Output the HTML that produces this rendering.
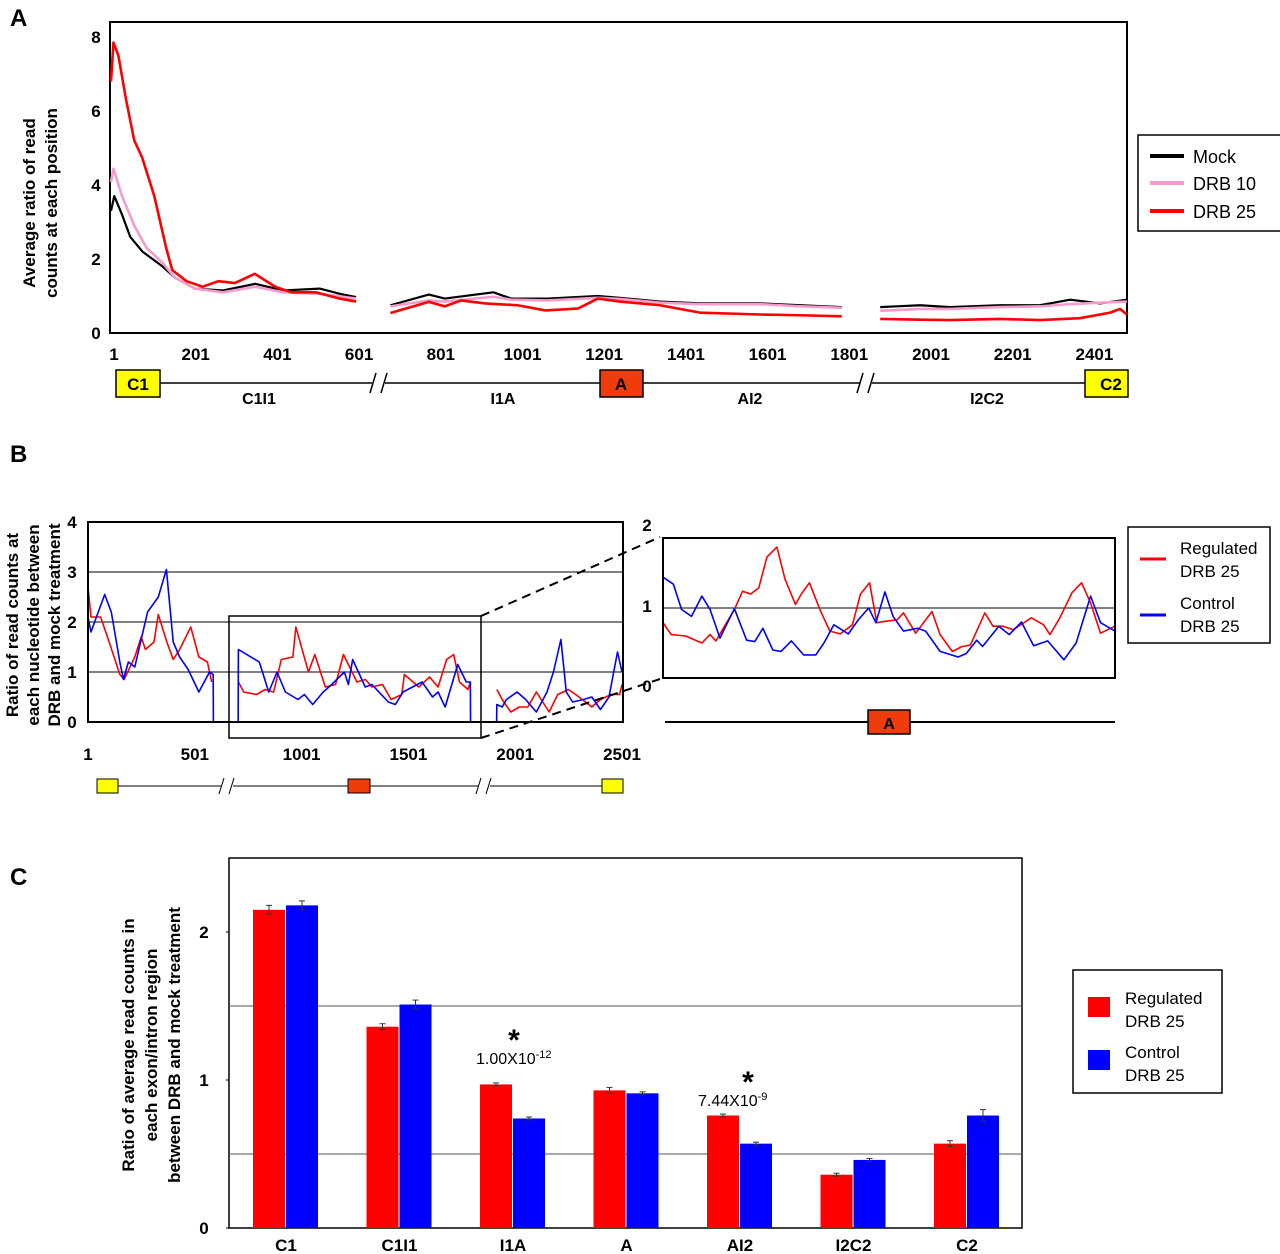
<!DOCTYPE html>
<html><head><meta charset="utf-8"><style>
html,body{margin:0;padding:0;background:#fff}
svg{display:block;font-family:"Liberation Sans",Arial,sans-serif}
.b{font-weight:bold}
</style></head><body>
<svg id="fig" width="1280" height="1254" viewBox="0 0 1280 1254" xmlns="http://www.w3.org/2000/svg">
<text x="10" y="26" class="b" font-size="24">A</text>
<text x="10" y="462" class="b" font-size="24">B</text>
<text x="10" y="885" class="b" font-size="24">C</text>

<g id="pa">
<rect x="110" y="22" width="1017" height="311" fill="none" stroke="#000" stroke-width="2"/>
<text transform="translate(35,203) rotate(-90)" text-anchor="middle" class="b" font-size="17"><tspan x="0" y="0">Average ratio of read</tspan><tspan x="0" y="22">counts at each position</tspan></text>
<g id="paTicks"></g><g id="paLines"></g>
<g>
<rect x="1138" y="135" width="166" height="96" fill="#fff" stroke="#000" stroke-width="1.5"/>
<line x1="1150" y1="156" x2="1184" y2="156" stroke="#000" stroke-width="4"/><text x="1193" y="163" font-size="18">Mock</text>
<line x1="1150" y1="183" x2="1184" y2="183" stroke="#f59ccc" stroke-width="4"/><text x="1193" y="190" font-size="18">DRB 10</text>
<line x1="1150" y1="211" x2="1184" y2="211" stroke="#f00" stroke-width="4"/><text x="1193" y="218" font-size="18">DRB 25</text>
</g>
<g>
<line x1="160" y1="383" x2="372" y2="383" stroke="#000" stroke-width="1.5"/>
<line x1="385" y1="383" x2="860" y2="383" stroke="#000" stroke-width="1.5"/>
<line x1="872" y1="383" x2="1085" y2="383" stroke="#000" stroke-width="1.5"/>
<line x1="370" y1="393" x2="376" y2="373" stroke="#000" stroke-width="1.5"/><line x1="381" y1="393" x2="387" y2="373" stroke="#000" stroke-width="1.5"/>
<line x1="857" y1="393" x2="863" y2="373" stroke="#000" stroke-width="1.5"/><line x1="868" y1="393" x2="874" y2="373" stroke="#000" stroke-width="1.5"/>
<rect x="116" y="370" width="44" height="27" fill="#ff0" stroke="#000" stroke-width="1.5"/><text x="138" y="390" text-anchor="middle" class="b" font-size="17">C1</text>
<rect x="600" y="370" width="43" height="27" fill="#f03c0a" stroke="#000" stroke-width="1.5"/><text x="621" y="390" text-anchor="middle" class="b" font-size="17">A</text>
<rect x="1085" y="370" width="43" height="27" fill="#ff0" stroke="#000" stroke-width="1.5"/><text x="1111" y="390" text-anchor="middle" class="b" font-size="17">C2</text>
<text x="259" y="404" text-anchor="middle" class="b" font-size="16">C1I1</text>
<text x="503" y="404" text-anchor="middle" class="b" font-size="16">I1A</text>
<text x="750" y="404" text-anchor="middle" class="b" font-size="16">AI2</text>
<text x="987" y="404" text-anchor="middle" class="b" font-size="16">I2C2</text>
</g>
</g>

<g id="pb">
<text transform="translate(18,625) rotate(-90)" text-anchor="middle" class="b" font-size="17"><tspan x="0" y="0">Ratio of read counts at</tspan><tspan x="0" y="21">each nucleotide between</tspan><tspan x="0" y="42">DRB and mock treatment</tspan></text>
<g id="pbGrid"></g><g id="pbLines"></g>
<rect x="88" y="522" width="535" height="200" fill="none" stroke="#000" stroke-width="2"/>
<rect x="229" y="616" width="252" height="122" fill="none" stroke="#000" stroke-width="1.5"/>
<line x1="481" y1="616" x2="660" y2="537" stroke="#000" stroke-width="2" stroke-dasharray="9,6"/>
<line x1="481" y1="738" x2="660" y2="679" stroke="#000" stroke-width="2" stroke-dasharray="9,6"/>
<text x="647" y="531" text-anchor="middle" class="b" font-size="17">2</text>
<text x="647" y="612" text-anchor="middle" class="b" font-size="17">1</text>
<text x="647" y="692" text-anchor="middle" class="b" font-size="17">0</text>
<g id="pbrLines"></g>
<rect x="663" y="538" width="452" height="140" fill="none" stroke="#000" stroke-width="2"/>
<g>
<line x1="118" y1="786" x2="221" y2="786" stroke="#000"/><line x1="233" y1="786" x2="348" y2="786" stroke="#000"/>
<line x1="370" y1="786" x2="478" y2="786" stroke="#000"/><line x1="490" y1="786" x2="602" y2="786" stroke="#000"/>
<line x1="219" y1="794" x2="224" y2="778" stroke="#000"/><line x1="229" y1="794" x2="234" y2="778" stroke="#000"/>
<line x1="476" y1="794" x2="481" y2="778" stroke="#000"/><line x1="486" y1="794" x2="491" y2="778" stroke="#000"/>
<rect x="97" y="779" width="21" height="14" fill="#ff0" stroke="#000"/>
<rect x="348" y="779" width="22" height="14" fill="#f03c0a" stroke="#000"/>
<rect x="602" y="779" width="21" height="14" fill="#ff0" stroke="#000"/>
<line x1="665" y1="722" x2="1115" y2="722" stroke="#000" stroke-width="2"/>
<rect x="868" y="710" width="42" height="24" fill="#f03c0a" stroke="#000" stroke-width="1.5"/><text x="889" y="729" text-anchor="middle" class="b" font-size="16">A</text>
</g>
<g>
<rect x="1128" y="527" width="142" height="116" fill="#fff" stroke="#000" stroke-width="1.5"/>
<line x1="1140" y1="559" x2="1166" y2="559" stroke="#f00" stroke-width="3"/>
<text x="1180" y="554" font-size="17">Regulated</text><text x="1180" y="577" font-size="17">DRB 25</text>
<line x1="1140" y1="615" x2="1166" y2="615" stroke="#00f" stroke-width="3"/>
<text x="1180" y="609" font-size="17">Control</text><text x="1180" y="632" font-size="17">DRB 25</text>
</g>
</g>

<g id="pc">
<rect x="229" y="858" width="793" height="370" fill="none" stroke="#000" stroke-width="1.5"/>
<text transform="translate(134,1045) rotate(-90)" text-anchor="middle" class="b" font-size="17"><tspan x="0" y="0">Ratio of average read counts in</tspan><tspan x="0" y="23">each exon/intron region</tspan><tspan x="0" y="46">between DRB and mock treatment</tspan></text>
<g id="pcGrid"></g><g id="pcBars"></g>
<text x="514" y="1050" text-anchor="middle" class="b" font-size="30">*</text>
<text x="476" y="1064" font-size="16">1.00X10<tspan dy="-6" font-size="11">-12</tspan></text>
<text x="748" y="1092" text-anchor="middle" class="b" font-size="30">*</text>
<text x="698" y="1106" font-size="16">7.44X10<tspan dy="-6" font-size="11">-9</tspan></text>
<g>
<rect x="1073" y="970" width="149" height="123" fill="#fff" stroke="#000" stroke-width="1.5"/>
<rect x="1088" y="997" width="22" height="20" fill="#f00"/>
<text x="1125" y="1004" font-size="17">Regulated</text><text x="1125" y="1027" font-size="17">DRB 25</text>
<rect x="1088" y="1050" width="22" height="20" fill="#00f"/>
<text x="1125" y="1058" font-size="17">Control</text><text x="1125" y="1081" font-size="17">DRB 25</text>
</g>
</g>
</svg>
<script>
const aTicks = [1,201,401,601,801,1001,1201,1401,1601,1801,2001,2201,2401];
const aYTicks = [0,2,4,6,8];
const mockPos1 = [1,9,28,48,78,127,157,206,275,354,423,512,561,601];
const mockVal1 = [3.3,3.7,3.2,2.6,2.2,1.8,1.5,1.2,1.15,1.33,1.15,1.2,1.06,0.97];
const mockPos2 = [685,779,818,937,981,1070,1193,1247,1345,1443,1590,1688,1790];
const mockVal2 = [0.75,1.04,0.93,1.1,0.93,0.93,1.0,0.95,0.85,0.8,0.8,0.75,0.7];
const mockPos3 = [1884,1982,2055,2177,2275,2349,2422,2488];
const mockVal3 = [0.7,0.75,0.7,0.75,0.75,0.9,0.8,0.9];
const pinkPos1 = [1,7,28,58,88,127,157,206,275,354,423,512,601];
const pinkVal1 = [4.08,4.44,3.7,2.9,2.3,1.9,1.5,1.2,1.1,1.25,1.1,1.06,0.93];
const pinkPos2 = [685,779,818,937,981,1070,1193,1247,1345,1443,1590,1688,1790];
const pinkVal2 = [0.72,0.88,0.85,0.98,0.9,0.88,0.95,0.92,0.82,0.78,0.78,0.72,0.68];
const pinkPos3 = [1884,1982,2055,2177,2275,2349,2422,2488];
const pinkVal3 = [0.6,0.65,0.65,0.7,0.72,0.78,0.82,0.85];
const redPos1 = [1,7,19,38,58,77,107,136,151,186,225,264,304,353,403,443,502,561,601];
const redVal1 = [6.8,7.85,7.5,6.3,5.2,4.75,3.7,2.3,1.7,1.4,1.25,1.4,1.35,1.6,1.25,1.1,1.1,0.93,0.85];
const redPos2 = [685,779,818,858,917,996,1065,1144,1193,1247,1345,1443,1590,1688,1790];
const redVal2 = [0.54,0.84,0.72,0.88,0.8,0.75,0.61,0.66,0.93,0.85,0.75,0.55,0.5,0.48,0.45];
const redPos3 = [1884,1982,2055,2177,2275,2373,2447,2471,2488];
const redVal3 = [0.38,0.36,0.35,0.38,0.35,0.4,0.55,0.65,0.5];

const bTicks = [1,501,1001,1501,2001,2501];
const bYTicks = [0,1,2,3,4];
const bRedPos = [1,15,60,100,150,170,220,250,270,310,330,370,400,430,482,520,560,580];
const bRedVal = [2.7,2.1,2.1,1.6,0.95,0.85,1.3,1.7,1.45,1.6,2.15,1.6,1.25,1.45,1.9,1.3,1.2,0.8];
const bRedPos2 = [705,730,790,830,870,906,960,974,1033,1063,1112,1160,1197,1260,1300,1330,1380,1420,1470,1482,1550,1600,1640,1680,1713,1740,1780,1791];
const bRedVal2 = [0.8,0.6,0.55,0.65,0.6,1.25,1.3,1.9,1.0,1.35,0.7,0.75,1.35,0.8,0.85,0.7,0.75,0.45,0.55,0.95,0.7,0.9,0.7,1.25,1.35,0.8,0.65,0.8];
const bRedPos3 = [1915,1940,1980,2020,2060,2100,2130,2160,2200,2250,2300,2360,2400,2450,2490,2501];
const bRedVal3 = [0.65,0.45,0.2,0.3,0.3,0.6,0.4,0.2,0.55,0.65,0.5,0.3,0.45,0.55,0.55,0.75];
const bBluePos = [1,15,79,110,150,167,190,220,280,330,368,400,430,470,520,570,587,588,704,705,803,847,886,925,984,1014,1053,1102,1142,1201,1220,1240,1299,1330,1407,1440,1476,1565,1614,1640,1673,1732,1772,1791,1792,1914,1915,1940,1960,2010,2050,2080,2100,2150,2180,2215,2240,2270,2320,2360,2400,2440,2480,2501];
const bBlueVal = [2.1,1.8,2.55,2.2,1.2,0.85,1.2,1.1,2.2,2.5,3.05,1.6,1.3,1.05,0.6,1.0,0.95,0,0,1.45,1.2,0.6,1.0,0.6,0.45,0.55,0.35,0.6,0.75,1.0,0.75,1.25,0.7,0.75,0.4,0.35,0.6,0.8,0.5,0.6,0.3,1.15,0.8,0.8,0,0,0.35,0.3,0.45,0.6,0.45,0.3,0.2,0.6,1.0,1.65,0.6,0.4,0.45,0.5,0.25,0.5,1.4,1.0];
const rRedX = [0,1.8,5,8.6,10.4,11.7,15.8,17.6,19.4,21.2,23,25.2,27,29.3,30.6,32.4,34.7,36.9,39.2,41.9,43.7,45.7,47.3,49.1,51.8,53.2,55.9,59.5,61.3,64,66.2,68,71.2,73,75.2,77.5,81.5,84.2,85.6,87.8,90.5,92.6,94.6,96.8,100];
const rRedVal = [0.79,0.62,0.6,0.5,0.62,0.53,0.98,1.24,1.2,1.29,1.73,1.87,1.41,1.05,1.2,1.36,0.98,0.67,0.63,0.76,1.2,1.36,0.79,0.81,0.83,0.93,0.64,0.95,0.62,0.38,0.45,0.47,0.93,0.74,0.74,0.69,0.86,0.76,0.62,0.86,1.22,1.36,1.07,0.64,0.74];
const rBlueX = [0,2.3,4.1,6.3,8.6,10.4,12.6,15.8,18.5,20.3,22.1,24.3,26.1,28.4,31.1,33.8,35.6,37.8,41,43.2,45.5,47.1,49.1,50.9,53.2,56.3,58.1,61.3,65.3,67.1,69.4,70.7,74.3,76.6,79.3,82,85.1,88.7,91.4,94.6,96.8,100];
const rBlueVal = [1.44,1.34,0.98,0.88,1.17,0.98,0.57,0.99,0.54,0.52,0.71,0.4,0.38,0.53,0.33,0.33,0.5,0.76,0.63,0.83,1.0,0.79,1.23,0.88,0.67,0.71,0.67,0.38,0.3,0.35,0.54,0.45,0.74,0.62,0.8,0.46,0.53,0.26,0.5,1.17,0.79,0.67];

const cCats = ["C1","C1I1","I1A","A","AI2","I2C2","C2"];
const cRegulated = [2.15,1.36,0.97,0.93,0.76,0.36,0.57];
const cControl = [2.18,1.51,0.74,0.91,0.57,0.46,0.76];
const cRegErr = [0.03,0.02,0.01,0.02,0.01,0.01,0.02];
const cCtlErr = [0.03,0.03,0.01,0.01,0.01,0.01,0.04];
const cYTicks = [0,1,2];
const cGrid = [0.5,1.5];

const NS="http://www.w3.org/2000/svg";
function mk(tag, attrs, parent){const e=document.createElementNS(NS,tag);for(const k in attrs)e.setAttribute(k,attrs[k]);parent.appendChild(e);return e;}

const ax = p => 111 + (p-1)*0.4085;
const ay = v => 333 - v*37;
const paT=document.getElementById('paTicks');
aTicks.forEach(t=>{const e=mk('text',{x:ax(t)+3,y:360,'text-anchor':'middle','font-size':17,'font-weight':'bold'},paT);e.textContent=t;

});
aYTicks.forEach(t=>{const e=mk('text',{x:96,y:ay(t)+6,'text-anchor':'middle','font-size':17,'font-weight':'bold'},paT);e.textContent=t;

});
const paL=document.getElementById('paLines');
function lineA(P,V,color,w,name){const pl=mk('polyline',{points:P.map((p,i)=>ax(p)+','+ay(V[i])).join(' '),fill:'none',stroke:color,'stroke-width':w,'stroke-linejoin':'round'},paL);

}
lineA(mockPos1,mockVal1,'#000',2.2,'mock-line');lineA(mockPos2,mockVal2,'#000',2.2,'mock-line');lineA(mockPos3,mockVal3,'#000',2.2,'mock-line');
lineA(pinkPos1,pinkVal1,'#f59ccc',2.6,'drb10-line');lineA(pinkPos2,pinkVal2,'#f59ccc',2.6,'drb10-line');lineA(pinkPos3,pinkVal3,'#f59ccc',2.6,'drb10-line');
lineA(redPos1,redVal1,'#f00',2.6,'drb25-line');lineA(redPos2,redVal2,'#f00',2.6,'drb25-line');lineA(redPos3,redVal3,'#f00',2.6,'drb25-line');

const bx = p => 88 + (p-1)*0.2136;
const by = v => 722 - v*50;
const pbG=document.getElementById('pbGrid');
bYTicks.forEach(t=>{ if(t>0&&t<4){const g=mk('line',{x1:88,x2:623,y1:by(t),y2:by(t),stroke:'#000','stroke-width':1},pbG);

}
const e=mk('text',{x:72,y:by(t)+6,'text-anchor':'middle','font-size':17,'font-weight':'bold'},pbG);e.textContent=t;

});
bTicks.forEach(t=>{const e=mk('text',{x:bx(t),y:760,'text-anchor':'middle','font-size':17,'font-weight':'bold'},pbG);e.textContent=t;

});
const pbL=document.getElementById('pbLines');
function lineB(P,V,color,name){const pl=mk('polyline',{points:P.map((p,i)=>bx(p)+','+by(V[i])).join(' '),fill:'none',stroke:color,'stroke-width':1.6,'stroke-linejoin':'round'},pbL);

}
lineB(bRedPos,bRedVal,'#f00','regulated-line');lineB(bRedPos2,bRedVal2,'#f00','regulated-line');lineB(bRedPos3,bRedVal3,'#f00','regulated-line');
lineB(bBluePos,bBlueVal,'#00f','control-line');

const rx = f => 663 + f/100*452;
const ry = v => 678 - v*70;
const pbr=document.getElementById('pbrLines');
const gl=mk('line',{x1:663,x2:1115,y1:ry(1),y2:ry(1),stroke:'#000','stroke-width':1},pbr);


function lineR(X,V,color,name){const pl=mk('polyline',{points:X.map((x,i)=>rx(x)+','+ry(V[i])).join(' '),fill:'none',stroke:color,'stroke-width':1.6,'stroke-linejoin':'round'},pbr);

}
lineR(rRedX,rRedVal,'#f00','regulated-line-zoom');lineR(rBlueX,rBlueVal,'#00f','control-line-zoom');

const cy = v => 1228 - v*148;
const cx = i => 286 + i*113.5;
const pcG=document.getElementById('pcGrid');
cGrid.forEach(g=>{const l=mk('line',{x1:229,x2:1022,y1:cy(g),y2:cy(g),stroke:'#555','stroke-width':1},pcG);

});
cYTicks.forEach(t=>{const e=mk('text',{x:204,y:cy(t)+6,'text-anchor':'middle','font-size':17,'font-weight':'bold'},pcG);e.textContent=t;


mk('line',{x1:226,x2:229,y1:cy(t),y2:cy(t),stroke:'#000'},pcG);});
const pcB=document.getElementById('pcBars');
cCats.forEach((c,i)=>{
 const r=mk('rect',{x:cx(i)-33,y:cy(cRegulated[i]),width:32,height:cy(0)-cy(cRegulated[i]),fill:'#f00'},pcB);
 
 
 const b=mk('rect',{x:cx(i),y:cy(cControl[i]),width:32,height:cy(0)-cy(cControl[i]),fill:'#00f'},pcB);
 
 
 [[cx(i)-17,cRegulated[i],cRegErr[i]],[cx(i)+16,cControl[i],cCtlErr[i]]].forEach(([xx,v,e])=>{
  mk('line',{x1:xx,x2:xx,y1:cy(v+e),y2:cy(v-e),stroke:'#333'},pcB);
  mk('line',{x1:xx-3,x2:xx+3,y1:cy(v+e),y2:cy(v+e),stroke:'#333'},pcB);
  mk('line',{x1:xx-3,x2:xx+3,y1:cy(v-e),y2:cy(v-e),stroke:'#333'},pcB);
 });
 const t=mk('text',{x:cx(i),y:1251,'text-anchor':'middle','font-size':17,'font-weight':'bold'},pcB);t.textContent=c;
 
 
});
</script>
</body></html>
